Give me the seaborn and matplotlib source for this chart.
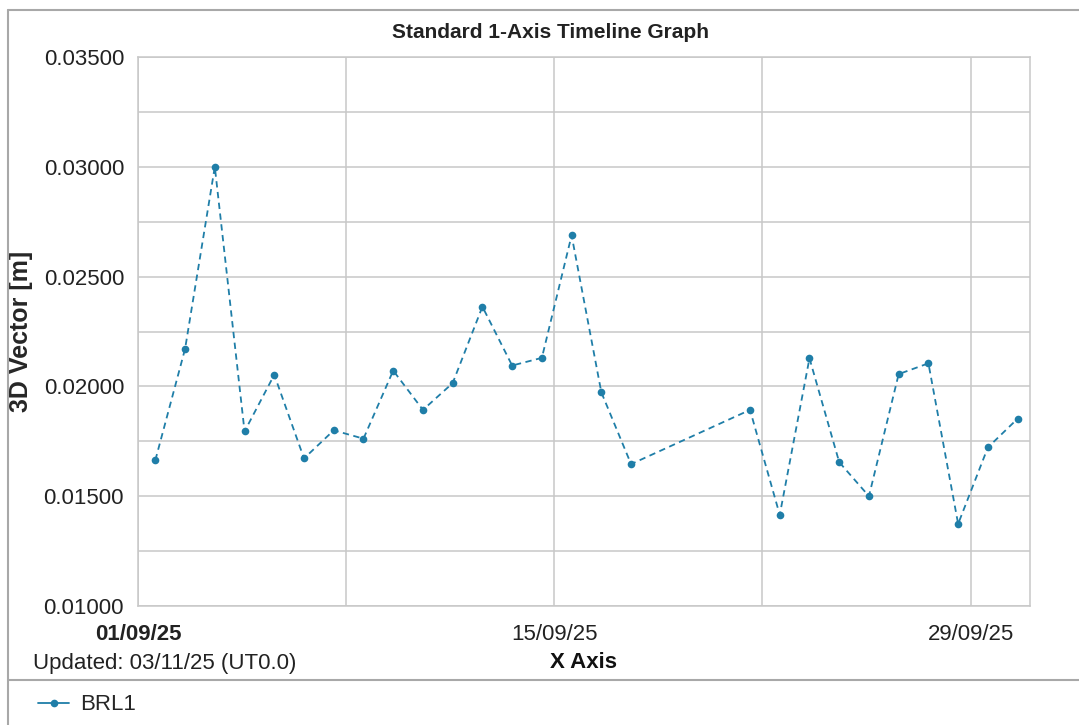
import pandas as pd
import matplotlib
matplotlib.use('Agg')
import matplotlib.pyplot as plt
import matplotlib.dates as mdates
from matplotlib.ticker import MultipleLocator, FormatStrFormatter, FixedLocator
from matplotlib.lines import Line2D
import seaborn as sns

# 데이터
dates = ['2025-09-01', '2025-09-02', '2025-09-03', '2025-09-04', '2025-09-05',
         '2025-09-06', '2025-09-07', '2025-09-08', '2025-09-09', '2025-09-10',
         '2025-09-11', '2025-09-12', '2025-09-13', '2025-09-14', '2025-09-15',
         '2025-09-16', '2025-09-17', '2025-09-21', '2025-09-22', '2025-09-23',
         '2025-09-24', '2025-09-25', '2025-09-26', '2025-09-27', '2025-09-28',
         '2025-09-29', '2025-09-30']
vector_3d = [0.01664, 0.02171, 0.03000, 0.01795, 0.02053,
             0.01672, 0.01800, 0.01762, 0.02072, 0.01893,
             0.02015, 0.02363, 0.02095, 0.02130, 0.02688,
             0.01973, 0.01646, 0.01893, 0.01415, 0.02128,
             0.01655, 0.01500, 0.02056, 0.02105, 0.01374,
             0.01722, 0.01853]
major_days = ['2025-09-01', '2025-09-15', '2025-09-29']
minor_days = ['2025-09-08', '2025-09-22']
station = 'BRL1'
title = 'Standard 1-Axis Timeline Graph'
updated = 'Updated: 03/11/25 (UT0.0)'

df = pd.DataFrame({'time': pd.to_datetime(dates) + pd.Timedelta(hours=14),
                   'value': vector_3d})

sns.set_style('white')
plt.rcParams['font.family'] = ['Liberation Sans', 'DejaVu Sans']

color = '#1f7ea8'
grid_c = '#c8c8c8'

fig = plt.figure(figsize=(10.79, 7.25), dpi=100)
ax = fig.add_axes([138/1079, 1-606/725, (1030-138)/1079, (606-57)/725])

sns.lineplot(data=df, x='time', y='value', ax=ax, color=color,
             linestyle=(0, (3.5, 2.5)), linewidth=1.3,
             marker='o', markersize=5.5, markeredgewidth=0, label=station)
ax.get_legend().remove()

ax.set_ylim(0.010, 0.035)
ax.set_xlim(pd.Timestamp('2025-09-01'), pd.Timestamp('2025-10-01'))

ax.yaxis.set_major_locator(MultipleLocator(0.005))
ax.yaxis.set_minor_locator(MultipleLocator(0.0025))
ax.yaxis.set_major_formatter(FormatStrFormatter('%.5f'))
ax.xaxis.set_major_locator(FixedLocator(mdates.date2num(pd.to_datetime(major_days))))
ax.xaxis.set_minor_locator(FixedLocator(mdates.date2num(pd.to_datetime(minor_days))))
ax.xaxis.set_major_formatter(mdates.DateFormatter('%d/%m/%y'))

ax.grid(True, which='both', color=grid_c, linewidth=1.1)
ax.set_axisbelow(True)
for s in ax.spines.values():
    s.set_color(grid_c)
    s.set_linewidth(1.1)

ax.tick_params(axis='y', which='major', length=7, width=1, color='#b0b0b0',
               pad=3, labelsize=16, labelcolor='#222222')
ax.tick_params(axis='y', which='minor', length=4, width=1, color='#b0b0b0')
ax.tick_params(axis='x', which='major', length=6, width=1, color='#b0b0b0',
               pad=7, labelsize=16, labelcolor='#222222')
ax.tick_params(axis='x', which='minor', length=4, width=1, color='#b0b0b0')

fig.canvas.draw()
xlabels = ax.get_xticklabels()
if xlabels:
    xlabels[0].set_fontweight('bold')

ax.set_xlabel('')
ax.set_ylabel('3D Vector [m]', fontsize=18, fontweight='bold')
ax.yaxis.set_label_coords(-105/892, 0.5)

fig.text(550/1079, 1-32/725, title, ha='center', va='center',
         fontsize=15, fontweight='bold', color='#222222')
fig.text(583/1079, 1-663/725, 'X Axis', ha='center', va='center',
         fontsize=16, fontweight='bold', color='#111111')
fig.text(33/1079, 1-663/725, updated, ha='left', va='center',
         fontsize=16, color='#222222')

# 바깥 테두리와 범례 구분선
frame_c = '#a8a8a8'
fig.add_artist(Line2D([8/1079, 1], [1-10/725, 1-10/725], color=frame_c, lw=1.5))
fig.add_artist(Line2D([8/1079, 8/1079], [0, 1-10/725], color=frame_c, lw=1.5))
fig.add_artist(Line2D([8/1079, 1], [1-680/725, 1-680/725], color=frame_c, lw=1.5))

handle = Line2D([], [], color=color, linewidth=1.3, marker='o',
                markersize=5.5, markeredgewidth=0)
fig.legend([handle], [station], loc='center left',
           bbox_to_anchor=(18/1079, 1-705/725), frameon=False,
           fontsize=16, handlelength=1.4, handletextpad=0.5)

fig.savefig('out.png', dpi=100)
